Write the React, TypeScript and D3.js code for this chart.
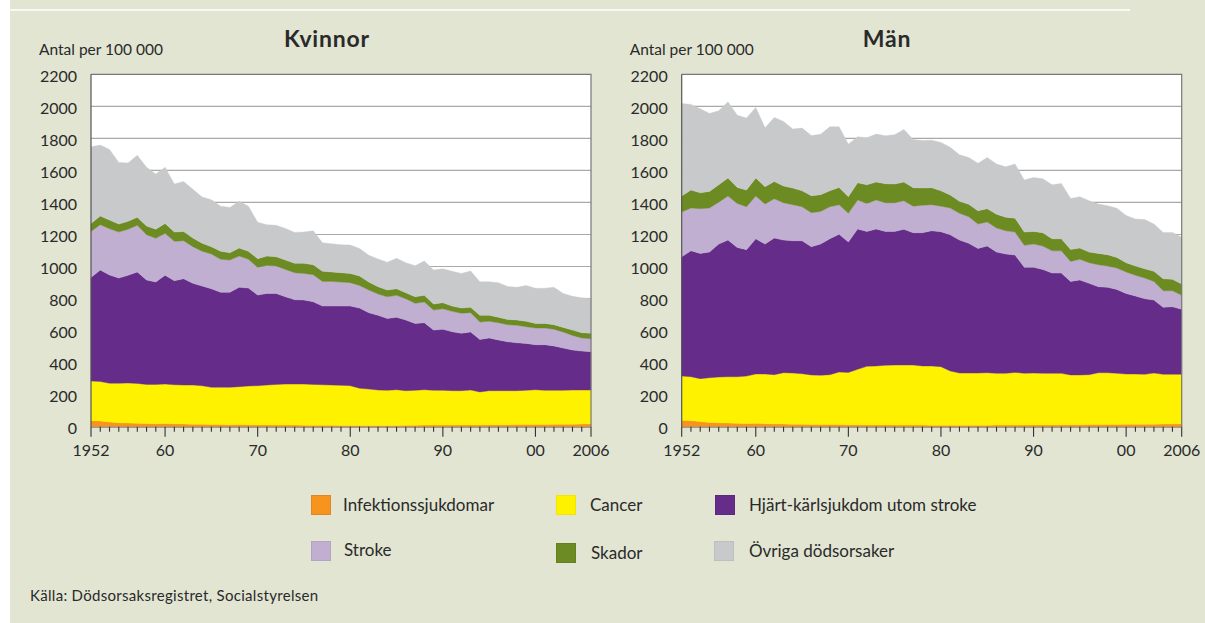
import React from 'react';
import * as d3 from 'd3';

const years = [
  1952, 1953, 1954, 1955, 1956, 1957, 1958, 1959, 1960, 1961,
  1962, 1963, 1964, 1965, 1966, 1967, 1968, 1969, 1970, 1971,
  1972, 1973, 1974, 1975, 1976, 1977, 1978, 1979, 1980, 1981,
  1982, 1983, 1984, 1985, 1986, 1987, 1988, 1989, 1990, 1991,
  1992, 1993, 1994, 1995, 1996, 1997, 1998, 1999, 2000, 2001,
  2002, 2003, 2004, 2005, 2006,
];

const seriesKeys = ['inf', 'cancer', 'cvd', 'stroke', 'skador', 'other'];
const seriesLabels = [
  'Infektionssjukdomar', 'Cancer', 'Hjärt-kärlsjukdom utom stroke',
  'Stroke', 'Skador', 'Övriga dödsorsaker',
];
const seriesColors = ['#f7941d', '#fff200', '#652d89', '#c1afd1', '#6d8b23', '#c8c9cb'];
const swatchStroke = ['#e0862a', '#f2e600', '#5c2880', '#b4a3c5', '#64801f', '#bdbec0'];

// Kvinnor (women), per 100 000
const womenInf = [38, 36, 30, 25, 23, 22, 20, 19, 20, 18, 17, 16, 15, 14, 13, 12, 13, 12, 11, 11, 10, 10, 10, 9, 9, 9, 9, 8, 8, 8, 8, 8, 8, 8, 9, 9, 10, 10, 10, 10, 11, 11, 11, 12, 12, 12, 13, 13, 14, 14, 15, 15, 16, 17, 18];
const womenCancer = [247, 246, 241, 246, 250, 248, 244, 245, 246, 244, 243, 244, 241, 232, 233, 234, 237, 242, 245, 249, 254, 256, 256, 257, 255, 253, 251, 250, 248, 232, 227, 221, 219, 223, 216, 218, 221, 217, 217, 215, 214, 218, 206, 213, 213, 213, 212, 214, 217, 213, 212, 212, 213, 212, 211];
const womenCvd = [647, 696, 676, 657, 672, 696, 652, 639, 679, 649, 664, 635, 622, 615, 593, 593, 620, 612, 566, 572, 568, 545, 527, 525, 516, 491, 493, 495, 497, 501, 477, 466, 449, 452, 441, 418, 418, 376, 381, 368, 358, 362, 328, 329, 316, 305, 299, 293, 281, 285, 277, 264, 250, 243, 239];
const womenStroke = [287, 283, 289, 287, 287, 291, 282, 273, 262, 246, 237, 229, 217, 217, 206, 201, 195, 179, 173, 175, 171, 171, 168, 166, 169, 154, 154, 150, 146, 141, 141, 133, 135, 137, 133, 125, 129, 125, 128, 127, 125, 121, 108, 104, 108, 107, 109, 104, 104, 104, 104, 100, 91, 82, 81];
const womenSkador = [50, 54, 54, 50, 50, 50, 55, 56, 62, 58, 58, 54, 50, 46, 50, 46, 50, 50, 54, 58, 58, 58, 59, 63, 62, 63, 59, 58, 58, 59, 50, 46, 42, 41, 37, 41, 42, 38, 38, 33, 33, 33, 42, 37, 34, 33, 33, 34, 29, 29, 29, 29, 33, 33, 34];
const womenOther = [478, 443, 441, 385, 364, 387, 366, 345, 350, 300, 312, 304, 289, 293, 282, 283, 292, 282, 227, 196, 196, 198, 193, 195, 212, 178, 176, 175, 177, 172, 167, 173, 173, 190, 188, 194, 214, 212, 212, 217, 216, 227, 210, 210, 216, 206, 204, 224, 219, 219, 233, 212, 211, 218, 218];

// Män (men), per 100 000
const menInf = [40, 38, 32, 27, 25, 23, 21, 20, 21, 19, 18, 17, 16, 15, 14, 13, 14, 13, 12, 12, 11, 11, 11, 10, 10, 10, 10, 9, 9, 9, 9, 9, 9, 9, 10, 10, 10, 10, 11, 11, 11, 12, 12, 12, 13, 13, 14, 14, 15, 15, 16, 16, 17, 17, 18];
const menCancer = [276, 274, 268, 279, 285, 289, 291, 296, 308, 310, 307, 320, 319, 316, 309, 308, 311, 328, 327, 346, 366, 368, 372, 375, 375, 375, 369, 370, 366, 339, 326, 326, 326, 328, 323, 323, 329, 323, 324, 322, 322, 321, 311, 311, 312, 324, 323, 319, 314, 314, 311, 319, 310, 310, 309];
const menCvd = [745, 786, 782, 784, 830, 853, 807, 789, 844, 811, 853, 828, 826, 830, 801, 819, 848, 860, 814, 876, 842, 855, 836, 834, 847, 826, 832, 844, 842, 850, 830, 810, 778, 791, 757, 745, 733, 662, 660, 649, 626, 626, 584, 593, 570, 537, 533, 524, 503, 487, 472, 456, 418, 422, 406];
const menStroke = [279, 267, 279, 275, 262, 275, 275, 268, 267, 250, 245, 233, 225, 212, 212, 204, 200, 185, 179, 181, 175, 181, 179, 179, 178, 166, 171, 163, 160, 167, 167, 166, 152, 150, 150, 145, 143, 137, 145, 146, 139, 139, 125, 129, 129, 137, 133, 133, 134, 129, 129, 116, 104, 100, 87];
const menSkador = [100, 112, 99, 104, 108, 112, 100, 104, 112, 108, 108, 104, 104, 100, 106, 104, 100, 108, 104, 108, 116, 112, 119, 117, 117, 115, 108, 106, 96, 81, 75, 77, 83, 83, 87, 84, 87, 83, 79, 83, 75, 75, 75, 70, 66, 71, 70, 67, 58, 58, 58, 63, 75, 71, 71];
const menOther = [578, 535, 525, 487, 462, 476, 451, 450, 441, 368, 400, 404, 368, 391, 376, 377, 399, 378, 328, 287, 294, 300, 299, 308, 329, 301, 297, 297, 302, 298, 291, 293, 296, 320, 313, 316, 338, 325, 337, 337, 337, 346, 318, 321, 320, 308, 306, 306, 295, 293, 308, 295, 289, 293, 291];

const yTicks = [0, 200, 400, 600, 800, 1000, 1200, 1400, 1600, 1800, 2000, 2200];
const xMajorTicks = [1952, 1960, 1970, 1980, 1990, 2000, 2006];
const xMajorLabels = ['1952', '60', '70', '80', '90', '00', '2006'];

const FONT = 'Lato, "Open Sans", "DejaVu Sans", sans-serif';
const TEXT = '#2a2a2a';
const W = 1205;
const H = 623;
const Y_TOP = 74.3;
const Y_BOT = 426.7;

type Row = { year: number; [k: string]: number };

function buildRows(cols: number[][]): Row[] {
  return years.map((year, i) => {
    const r: Row = { year };
    seriesKeys.forEach((k, j) => { r[k] = cols[j][i]; });
    return r;
  });
}

const panels = [
  {
    title: 'Kvinnor', titleX: 327, x0: 91, x1: 591,
    rows: buildRows([womenInf, womenCancer, womenCvd, womenStroke, womenSkador, womenOther]),
  },
  {
    title: 'Män', titleX: 887, x0: 681.7, x1: 1181.7,
    rows: buildRows([menInf, menCancer, menCvd, menStroke, menSkador, menOther]),
  },
];

const legendPos = [
  { sx: 311, sy: 495, tx: 343, ty: 511 },
  { sx: 556, sy: 495, tx: 590, ty: 511 },
  { sx: 715, sy: 495, tx: 749, ty: 511 },
  { sx: 311, sy: 541, tx: 344, ty: 556 },
  { sx: 556, sy: 543, tx: 591, ty: 559 },
  { sx: 714, sy: 541, tx: 749, ty: 557 },
];

function Panel({ p }: { p: typeof panels[number] }) {
  const x = d3.scaleLinear().domain([1952, 2006]).range([p.x0, p.x1]);
  const y = d3.scaleLinear().domain([0, 2200]).range([Y_BOT, Y_TOP]);
  const stacked = d3.stack<Row>().keys(seriesKeys)(p.rows);
  const area = d3.area<d3.SeriesPoint<Row>>()
    .x((d) => x(d.data.year))
    .y0((d) => y(d[0]))
    .y1((d) => y(d[1]))
    .curve(d3.curveLinear);

  return (
    <g>
      <rect x={p.x0} y={Y_TOP} width={p.x1 - p.x0} height={Y_BOT - Y_TOP} fill="#ffffff" />
      {yTicks.filter((t) => t > 0 && t < 2200).map((t) => (
        <line key={t} x1={p.x0} x2={p.x1} y1={y(t)} y2={y(t)} stroke="#a9a9a9" strokeWidth={1.2} />
      ))}
      {stacked.map((s, i) => (
        <path key={s.key} d={area(s) || ''} fill={seriesColors[i]} stroke={seriesColors[i]} strokeWidth={0.4} />
      ))}
      <polyline
        points={`${p.x0},${Y_TOP} ${p.x1},${Y_TOP} ${p.x1},${Y_BOT}`}
        fill="none" stroke="#777" strokeWidth={1.2}
      />
      <line x1={p.x0} x2={p.x0} y1={Y_TOP} y2={Y_BOT} stroke="#555" strokeWidth={1.2} />
      <line x1={p.x0} x2={p.x1} y1={Y_BOT + 0.5} y2={Y_BOT + 0.5} stroke="#666" strokeWidth={0.8} />
      {years.map((yr) => {
        const major = xMajorTicks.includes(yr);
        return (
          <line key={yr} x1={x(yr)} x2={x(yr)} y1={Y_BOT} y2={Y_BOT + (major ? 10 : 5)} stroke="#333" strokeWidth={1.1} />
        );
      })}
      {xMajorTicks.map((yr, i) => (
        <text key={yr} x={x(yr)} y={456} textAnchor="middle" fontSize={16} fill={TEXT}>{xMajorLabels[i]}</text>
      ))}
      {yTicks.map((t) => (
        <text key={t} x={p.x0 - 14} y={y(t) + 7.5} textAnchor="end" fontSize={16} fill={TEXT}>{t}</text>
      ))}
      <text x={p.x0 - 52} y={55} fontSize={15.5} fill={TEXT}>Antal per 100 000</text>
      <text x={p.titleX} y={47} textAnchor="middle" fontSize={23} letterSpacing={0.8} fontWeight="bold" fill={TEXT}>{p.title}</text>
    </g>
  );
}

export default function App() {
  return (
    <svg width={W} height={H} style={{ position: 'absolute', left: 0, top: 0, fontFamily: FONT }}>
      <rect x={0} y={0} width={W} height={H} fill="#e1e5d2" />
      <rect x={0} y={0} width={10} height={H} fill="#ffffff" />
      <line x1={10} x2={1130} y1={10} y2={10} stroke="#ffffff" strokeWidth={1.5} />
      {panels.map((p) => <Panel key={p.title} p={p} />)}
      {seriesLabels.map((lab, i) => (
        <g key={lab}>
          <rect x={legendPos[i].sx + 0.5} y={legendPos[i].sy + 0.5} width={19} height={19}
            fill={seriesColors[i]} stroke={swatchStroke[i]} strokeWidth={1} />
          <text x={legendPos[i].tx} y={legendPos[i].ty} fontSize={17} fill={TEXT}>{lab}</text>
        </g>
      ))}
      <text x={30} y={601} fontSize={15} letterSpacing={0.3} fill={TEXT}>Källa: Dödsorsaksregistret, Socialstyrelsen</text>
    </svg>
  );
}
